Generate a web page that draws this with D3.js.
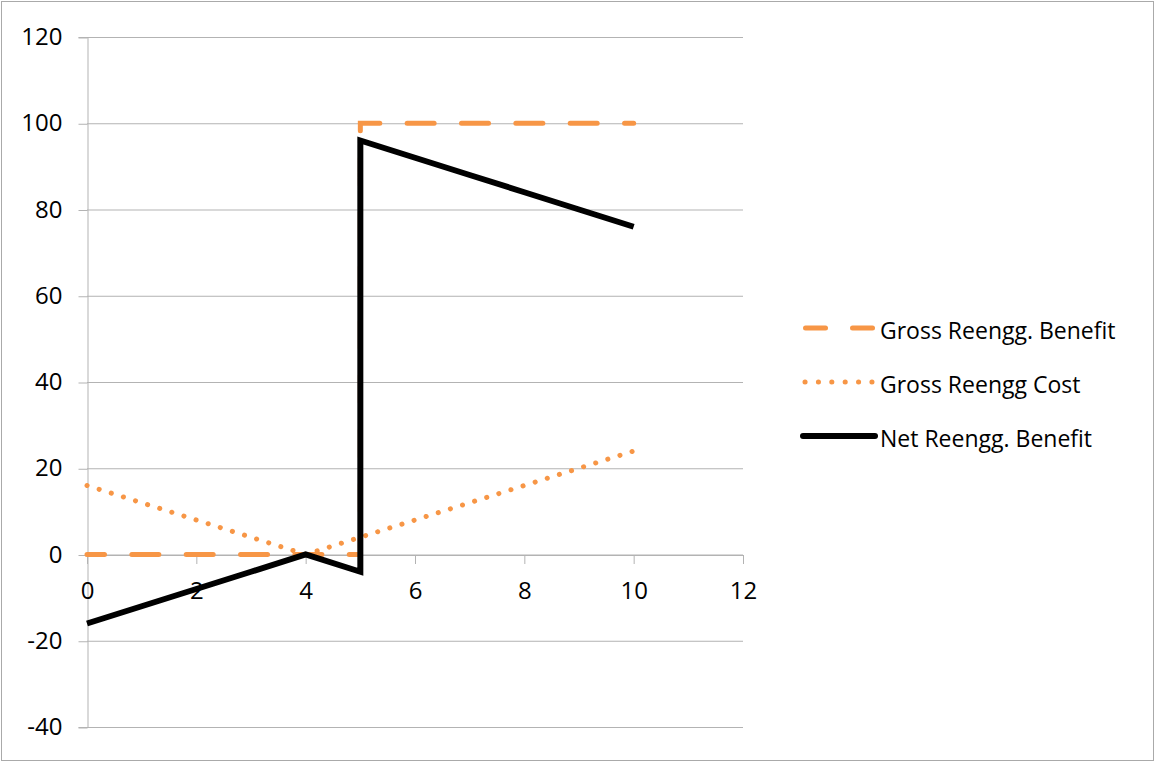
<!DOCTYPE html>
<html><head><meta charset="utf-8">
<script src="https://cdn.jsdelivr.net/npm/d3@7"></script>
<style>body{margin:0;background:#fff}text{font-family:"Open Sans",sans-serif}</style>
</head><body><svg id="c" width="1155" height="762"></svg>
<script>
const xTicks=[0,2,4,6,8,10,12];
const yTicks=[-40,-20,0,20,40,60,80,100,120];
const seriesNames=["Gross Reengg. Benefit","Gross Reengg Cost","Net Reengg. Benefit"];
const benefitX=[0,1,2,3,4,5,5,6,7,8,9,10];
const benefitY=[0,0,0,0,0,0,100,100,100,100,100,100];
const costX=[0,1,2,3,4,5,6,7,8,9,10];
const costY=[16,12,8,4,0,4,8,12,16,20,24];
const netX=[0,1,2,3,4,5,5,6,7,8,9,10];
const netY=[-16,-12,-8,-4,0,-4,96,92,88,84,80,76];

const svg=d3.select("#c");
const orange="#F79646", grid="#b3b3b3";
svg.append("rect").attr("x",1.5).attr("y",1.5).attr("width",1152).attr("height",759).attr("fill","none").attr("stroke","#aaa");
const x=d3.scaleLinear().domain([0,12]).range([87,743]);
const y=d3.scaleLinear().domain([-40,120]).range([727,37]);
const fmt=d=>String(d);

svg.append("g").selectAll("line").data(yTicks).join("line")
 .attr("x1",x(0)).attr("x2",x(12)).attr("y1",d=>y(d)+0.5).attr("y2",d=>y(d)+0.5).attr("stroke",grid);
const yAxis=d3.axisLeft(y).tickValues(yTicks).tickSize(9).tickPadding(16).tickFormat(fmt);
const gy=svg.append("g").attr("transform",`translate(${x(0)+0.5},0)`).call(yAxis);
gy.select(".domain").attr("stroke",grid);
gy.selectAll(".tick line").attr("stroke",grid).attr("transform","translate(0,0.5)");
gy.selectAll(".tick text").attr("font-size",24).attr("fill","#000").attr("font-family","Open Sans");

const xAxis=d3.axisBottom(x).tickValues(xTicks).tickSize(9).tickPadding(18).tickFormat(fmt);
const gx=svg.append("g").attr("transform",`translate(0,${y(0)+0.5})`).call(xAxis);
gx.select(".domain").attr("stroke",grid);
gx.selectAll(".tick line").attr("stroke",grid);
gx.selectAll(".tick text").attr("font-size",24).attr("fill","#000").attr("font-family","Open Sans");

const line=d3.line().x(d=>x(d[0])).y(d=>y(d[1]));
const zip=(a,b)=>a.map((v,i)=>[v,b[i]]);
svg.append("path").datum(zip(benefitX,benefitY)).attr("d",line).attr("fill","none")
 .attr("stroke",orange).attr("stroke-width",5).attr("stroke-linecap","round")
 .attr("stroke-dasharray","27,27.35").attr("stroke-dashoffset",9.5);
svg.append("path").datum(zip(costX,costY)).attr("d",line).attr("fill","none")
 .attr("stroke",orange).attr("stroke-width",5).attr("stroke-linecap","round").attr("stroke-dasharray","0.1,12.6");
svg.append("path").datum(zip(netX,netY)).attr("d",line).attr("fill","none")
 .attr("stroke","#000").attr("stroke-width",6).attr("stroke-linejoin","miter");

// legend
const lg=svg.append("g");
const ly=[328,382,436];
seriesNames.forEach((n,i)=>{
 if(i===0){
  lg.append("line").attr("x1",805.5).attr("x2",825.5).attr("y1",ly[i]).attr("y2",ly[i]).attr("stroke",orange).attr("stroke-width",5).attr("stroke-linecap","round");
  lg.append("line").attr("x1",852.5).attr("x2",872.5).attr("y1",ly[i]).attr("y2",ly[i]).attr("stroke",orange).attr("stroke-width",5).attr("stroke-linecap","round");
 } else if(i===1){
  lg.append("line").attr("x1",805).attr("x2",873).attr("y1",ly[i]).attr("y2",ly[i]).attr("stroke",orange).attr("stroke-width",5)
   .attr("stroke-linecap","round").attr("stroke-dasharray","0.1,13.28");
 } else {
  lg.append("line").attr("x1",803).attr("x2",875).attr("y1",ly[i]).attr("y2",ly[i]).attr("stroke","#000").attr("stroke-width",6).attr("stroke-linecap","round");
 }
 lg.append("text").attr("x",880).attr("y",ly[i]+3).attr("dy","0.35em").attr("font-size",23).text(n);
});
</script></body></html>
